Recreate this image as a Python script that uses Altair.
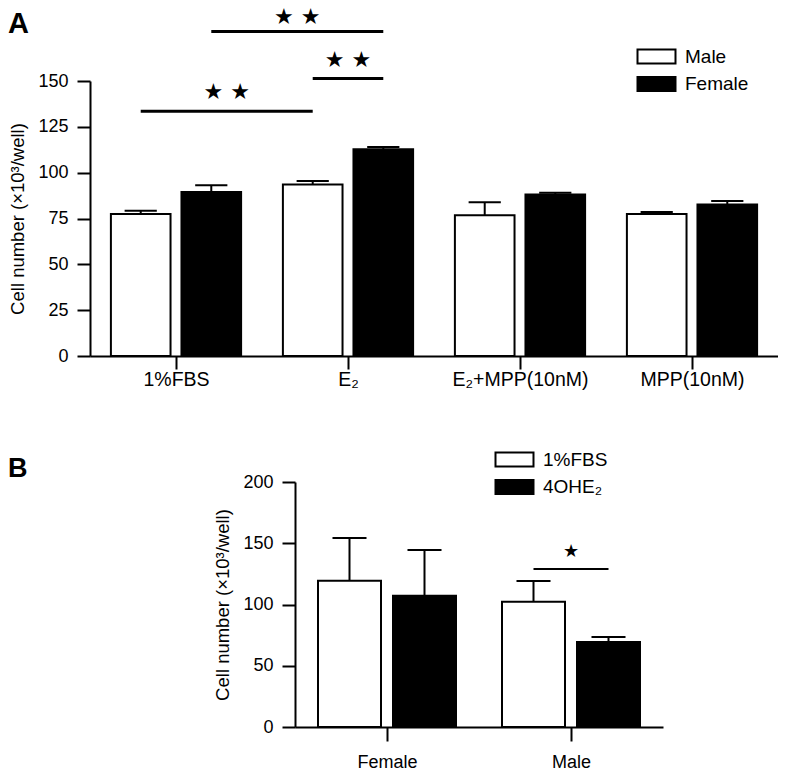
import json
import altair as alt
import pandas as pd

# ---------------- Panel A data ----------------
treat_A = ["1%FBS", "E₂", "E₂+MPP(10nM)", "MPP(10nM)"]
sex_A = ["Male", "Female"]
male_A = [77.4, 93.6, 76.8, 77.4]
male_A_err = [1.8, 1.9, 7.0, 1.2]
female_A = [89.5, 112.8, 88.1, 82.6]
female_A_err = [3.7, 1.2, 1.0, 1.9]

sig_A_from = [("1%FBS", "Male"), ("1%FBS", "Female"), ("E₂", "Male")]
sig_A_to = [("E₂", "Male"), ("E₂", "Female"), ("E₂", "Female")]
sig_A_level = [133.5, 177.0, 151.3]
sig_A_star_level = [144.0, 185.0, 161.7]
sig_A_text = ["★ ★", "★ ★", "★ ★"]

# ---------------- Panel B data ----------------
sex_B = ["Female", "Male"]
treat_B = ["1%FBS", "4OHE₂"]
fbs_B = [119.4, 102.2]
fbs_B_err = [34.9, 17.0]
ohe_B = [107.2, 69.4]
ohe_B_err = [37.3, 4.1]

sig_B_from = [("Male", "1%FBS")]
sig_B_to = [("Male", "4OHE₂")]
sig_B_level = [129.0]
sig_B_star_level = [143.0]
sig_B_text = ["★"]

panel_letters = ["A", "B"]

FONT = "Liberation Sans"
YTITLE = "Cell number (×10³/well)"

# ---------------- layout (pixels inside the common plot area) ----------------
W, H = 688, 646
A_X = [0, 688]          # panel A x range
A_Y = [275, 0]          # panel A y range (bottom, top)
B_X = [205, 573]        # panel B x range
B_Y = [646, 401]        # panel B y range

# bar geometry as fractions of a category step
PI_A, PI2_A = 0.243, 0.155
PI_B, PI2_B = 0.25, 0.16
CAP_FRAC = 0.54


def geometry(pi, pi2):
    band = 1 - pi
    sub = band / (2 - pi2)
    return sub / 2, sub * (1 - pi2) / 2   # centre offset, half bar width


def build(cats, groups, vals1, err1, vals2, err2, pi, pi2):
    off, half = geometry(pi, pi2)
    rows = []
    for i, c in enumerate(cats):
        for g, v, e, sgn in ((groups[0], vals1[i], err1[i], -1), (groups[1], vals2[i], err2[i], 1)):
            p = i + 0.5 + sgn * off
            rows.append(dict(cat=c, grp=g, pos=p, xlo=p - half, xhi=p + half,
                             clo=p - half * CAP_FRAC, chi=p + half * CAP_FRAC,
                             value=v, top=v + e))
    return pd.DataFrame(rows)


def build_sig(cats, groups, frm, to, level, star, label, pi, pi2):
    off, _ = geometry(pi, pi2)

    def pos(c, g):
        return cats.index(c) + 0.5 + (-off if g == groups[0] else off)
    d = pd.DataFrame(dict(x1=[pos(*a) for a in frm], x2=[pos(*b) for b in to],
                          level=level, star=star, label=label))
    d["mid"] = (d.x1 + d.x2) / 2
    return d


def panel(df, sig, cats, groups, ydomain, yvalues, xrange, yrange,
          xlabel_size, xtick, xlabpad, xoffset, yoffset, legx, legy,
          sig_width, star_size):
    sx = alt.Scale(domain=[0, len(cats)], range=xrange, nice=False, zero=False)
    sy = alt.Scale(domain=ydomain, range=yrange, nice=False, zero=False)
    expr = json.dumps(cats, ensure_ascii=False) + "[floor(datum.value)]"
    ax_x = alt.Axis(orient="bottom", offset=xoffset,
                    values=[i + 0.5 for i in range(len(cats))], labelExpr=expr,
                    labelFont=FONT, labelFontSize=xlabel_size, labelAngle=0,
                    tickSize=xtick, labelPadding=xlabpad, domainWidth=2, tickWidth=2,
                    domainColor="black", tickColor="black", labelColor="black",
                    grid=False, title=None, labelFlush=False)
    ax_y = alt.Axis(orient="left", offset=yoffset, values=yvalues, grid=False,
                    tickSize=13, tickWidth=2, domainWidth=2,
                    labelFontSize=18, labelPadding=9, labelColor="black",
                    domainColor="black", tickColor="black", title=YTITLE,
                    titleFontSize=18.5, titleFontWeight="normal",
                    titlePadding=10, titleColor="black")

    def X(f):
        return alt.X(f, type="quantitative", scale=sx, axis=ax_x, title=None)

    def Y(f):
        return alt.Y(f, type="quantitative", scale=sy, axis=ax_y, title=YTITLE)

    bars = alt.Chart(df).mark_bar(stroke="black", strokeWidth=2).encode(
        x=X("xlo"), x2="xhi", y=Y("value"), y2=alt.datum(0),
        fill=alt.Fill("grp:N", sort=groups,
                      scale=alt.Scale(domain=groups, range=["white", "black"]),
                      legend=alt.Legend(title=None, orient="none", legendX=legx, legendY=legy,
                                        symbolType="M-2.714,-1H2.714V1H-2.714Z",
                                        symbolSize=196, symbolStrokeColor="black",
                                        symbolStrokeWidth=2, labelFontSize=19,
                                        labelFont=FONT, labelOffset=19, rowPadding=4.5,
                                        labelColor="black")))
    stem = alt.Chart(df).mark_rule(color="black", strokeWidth=2).encode(
        x=X("pos"), y=Y("value"), y2="top")
    cap = alt.Chart(df).mark_rule(color="black", strokeWidth=2).encode(
        x=X("clo"), x2="chi", y=Y("top"))
    line = alt.Chart(sig).mark_rule(color="black", strokeWidth=sig_width).encode(
        x=X("x1"), x2="x2", y=Y("level"))
    stars = alt.Chart(sig).mark_text(font="DejaVu Sans", fontSize=star_size,
                                     baseline="middle", color="black").encode(
        x=X("mid"), y=Y("star"), text="label:N")
    return alt.layer(bars, stem, cap, line, stars)


dfA = build(treat_A, sex_A, male_A, male_A_err, female_A, female_A_err, PI_A, PI2_A)
sigA = build_sig(treat_A, sex_A, sig_A_from, sig_A_to, sig_A_level, sig_A_star_level,
                 sig_A_text, PI_A, PI2_A)
dfB = build(sex_B, treat_B, fbs_B, fbs_B_err, ohe_B, ohe_B_err, PI_B, PI2_B)
sigB = build_sig(sex_B, treat_B, sig_B_from, sig_B_to, sig_B_level, sig_B_star_level,
                 sig_B_text, PI_B, PI2_B)

layerA = panel(dfA, sigA, treat_A, sex_A, [0, 150], [0, 25, 50, 75, 100, 125, 150],
               A_X, A_Y, 19.5, 13, 1, -(H - A_Y[0]), 0, 557, -34, 3, 22)
layerB = panel(dfB, sigB, sex_B, treat_B, [0, 200], [0, 50, 100, 150, 200],
               B_X, B_Y, 18, 14, 12, 0, -B_X[0], 415, 369, 2, 18)

letters = alt.Chart(pd.DataFrame({"t": panel_letters, "px": [-82, -82], "py": [-48, 396],
                                  "fs": [29, 27]})
                    ).mark_text(font=FONT, fontWeight="bold", align="left",
                                baseline="alphabetic", color="black").encode(
    text="t:N",
    x=alt.X("px:Q", scale=None),
    y=alt.Y("py:Q", scale=None),
    size=alt.Size("fs:Q", scale=None, legend=None))

chart = alt.layer(layerA, layerB, letters).resolve_scale(
    x="independent", y="independent", fill="independent"
).resolve_axis(x="independent", y="independent").resolve_legend(
    fill="independent"
).properties(
    width=W, height=H,
    autosize=alt.AutoSizeParams(type="none"),
    padding={"left": 82, "top": 73, "right": 0, "bottom": 45},
).configure(font=FONT).configure_view(stroke=None)

chart.save("out.html", embed_options={"renderer": "svg", "actions": False})
